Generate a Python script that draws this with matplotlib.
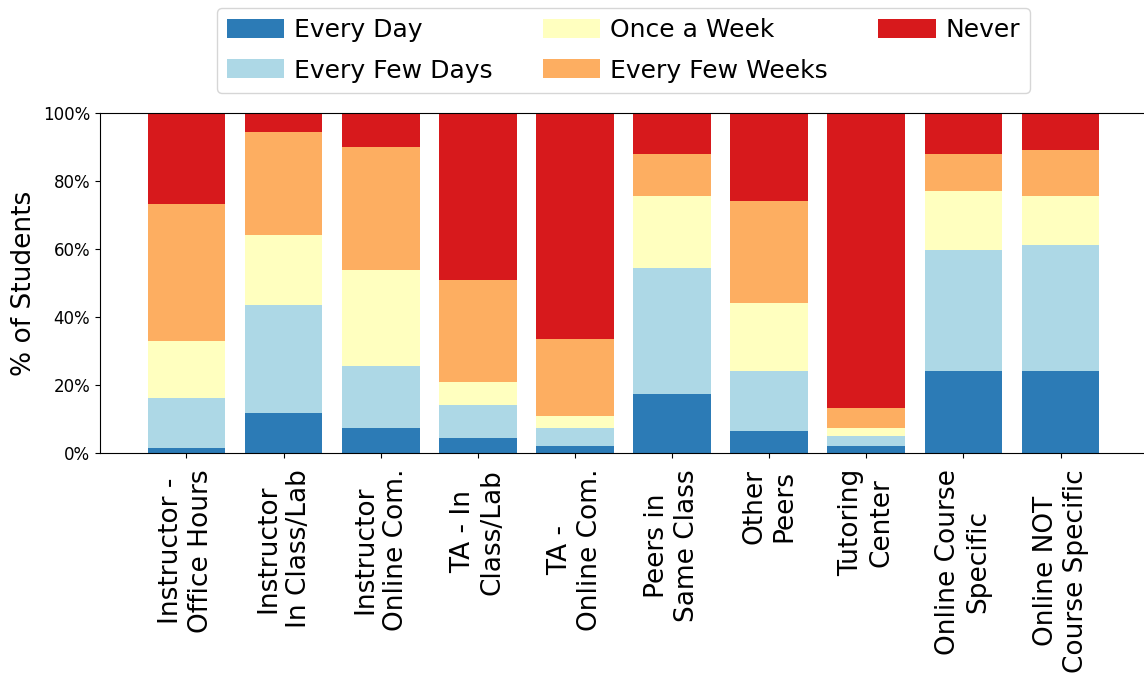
import matplotlib
matplotlib.use('Agg')
import matplotlib.pyplot as plt
import numpy as np
from matplotlib.ticker import PercentFormatter

# categories (x tick labels)
sources = ['Instructor -\nOffice Hours', 'Instructor\nIn Class/Lab', 'Instructor\nOnline Com.',
           'TA - In\nClass/Lab', 'TA -\nOnline Com.', 'Peers in\nSame Class',
           'Other\nPeers', 'Tutoring\nCenter', 'Online Course\nSpecific',
           'Online NOT\nCourse Specific']

# % of students per frequency, one value per source
every_day = [1.6, 11.8, 7.4, 4.4, 2.2, 17.3, 6.6, 2.2, 24.0, 24.0]
every_few_days = [14.6, 31.6, 18.1, 9.7, 5.2, 37.2, 17.4, 2.9, 35.7, 37.2]
once_a_week = [16.6, 20.7, 28.2, 6.8, 3.6, 21.0, 20.2, 2.2, 17.3, 14.3]
every_few_weeks = [40.5, 30.2, 36.2, 29.9, 22.5, 12.5, 29.9, 6.0, 11.0, 13.7]
never = [26.7, 5.7, 10.1, 49.2, 66.5, 12.0, 25.9, 86.7, 12.0, 10.8]

series = [('Every Day', every_day, '#2c7bb6'),
          ('Every Few Days', every_few_days, '#add8e6'),
          ('Once a Week', once_a_week, '#ffffbf'),
          ('Every Few Weeks', every_few_weeks, '#fdae61'),
          ('Never', never, '#d7191c')]

fig = plt.figure(figsize=(11.44, 6.75), dpi=100)
ax = fig.add_axes([100 / 1144, 222 / 675, 1047 / 1144, 340 / 675])

x = np.arange(len(sources))
bottom = np.zeros(len(sources))
for name, vals, color in series:
    vals = np.array(vals)
    ax.bar(x, vals, 0.8, bottom=bottom, label=name, color=color)
    bottom += vals

ax.set_ylim(0, 100)
ax.set_xlim(-0.89, len(sources) - 1 + 0.89)
ax.yaxis.set_major_formatter(PercentFormatter(decimals=0))
ax.set_yticks([0, 20, 40, 60, 80, 100])
ax.tick_params(axis='y', labelsize=12)
ax.tick_params(axis='x', pad=8)
ax.set_xticks(x)
ax.set_xticklabels(sources, rotation=90, fontsize=19, ha='center', multialignment='center')
ax.set_ylabel('% of Students', fontsize=19)

ax.legend(loc='lower center', bbox_to_anchor=(0.5, 1.06), borderaxespad=0,
          ncol=3, fontsize=18, handlelength=2.3, handletextpad=0.4,
          handleheight=0.8, labelspacing=0.65)

fig.savefig('out.png', dpi=100)
